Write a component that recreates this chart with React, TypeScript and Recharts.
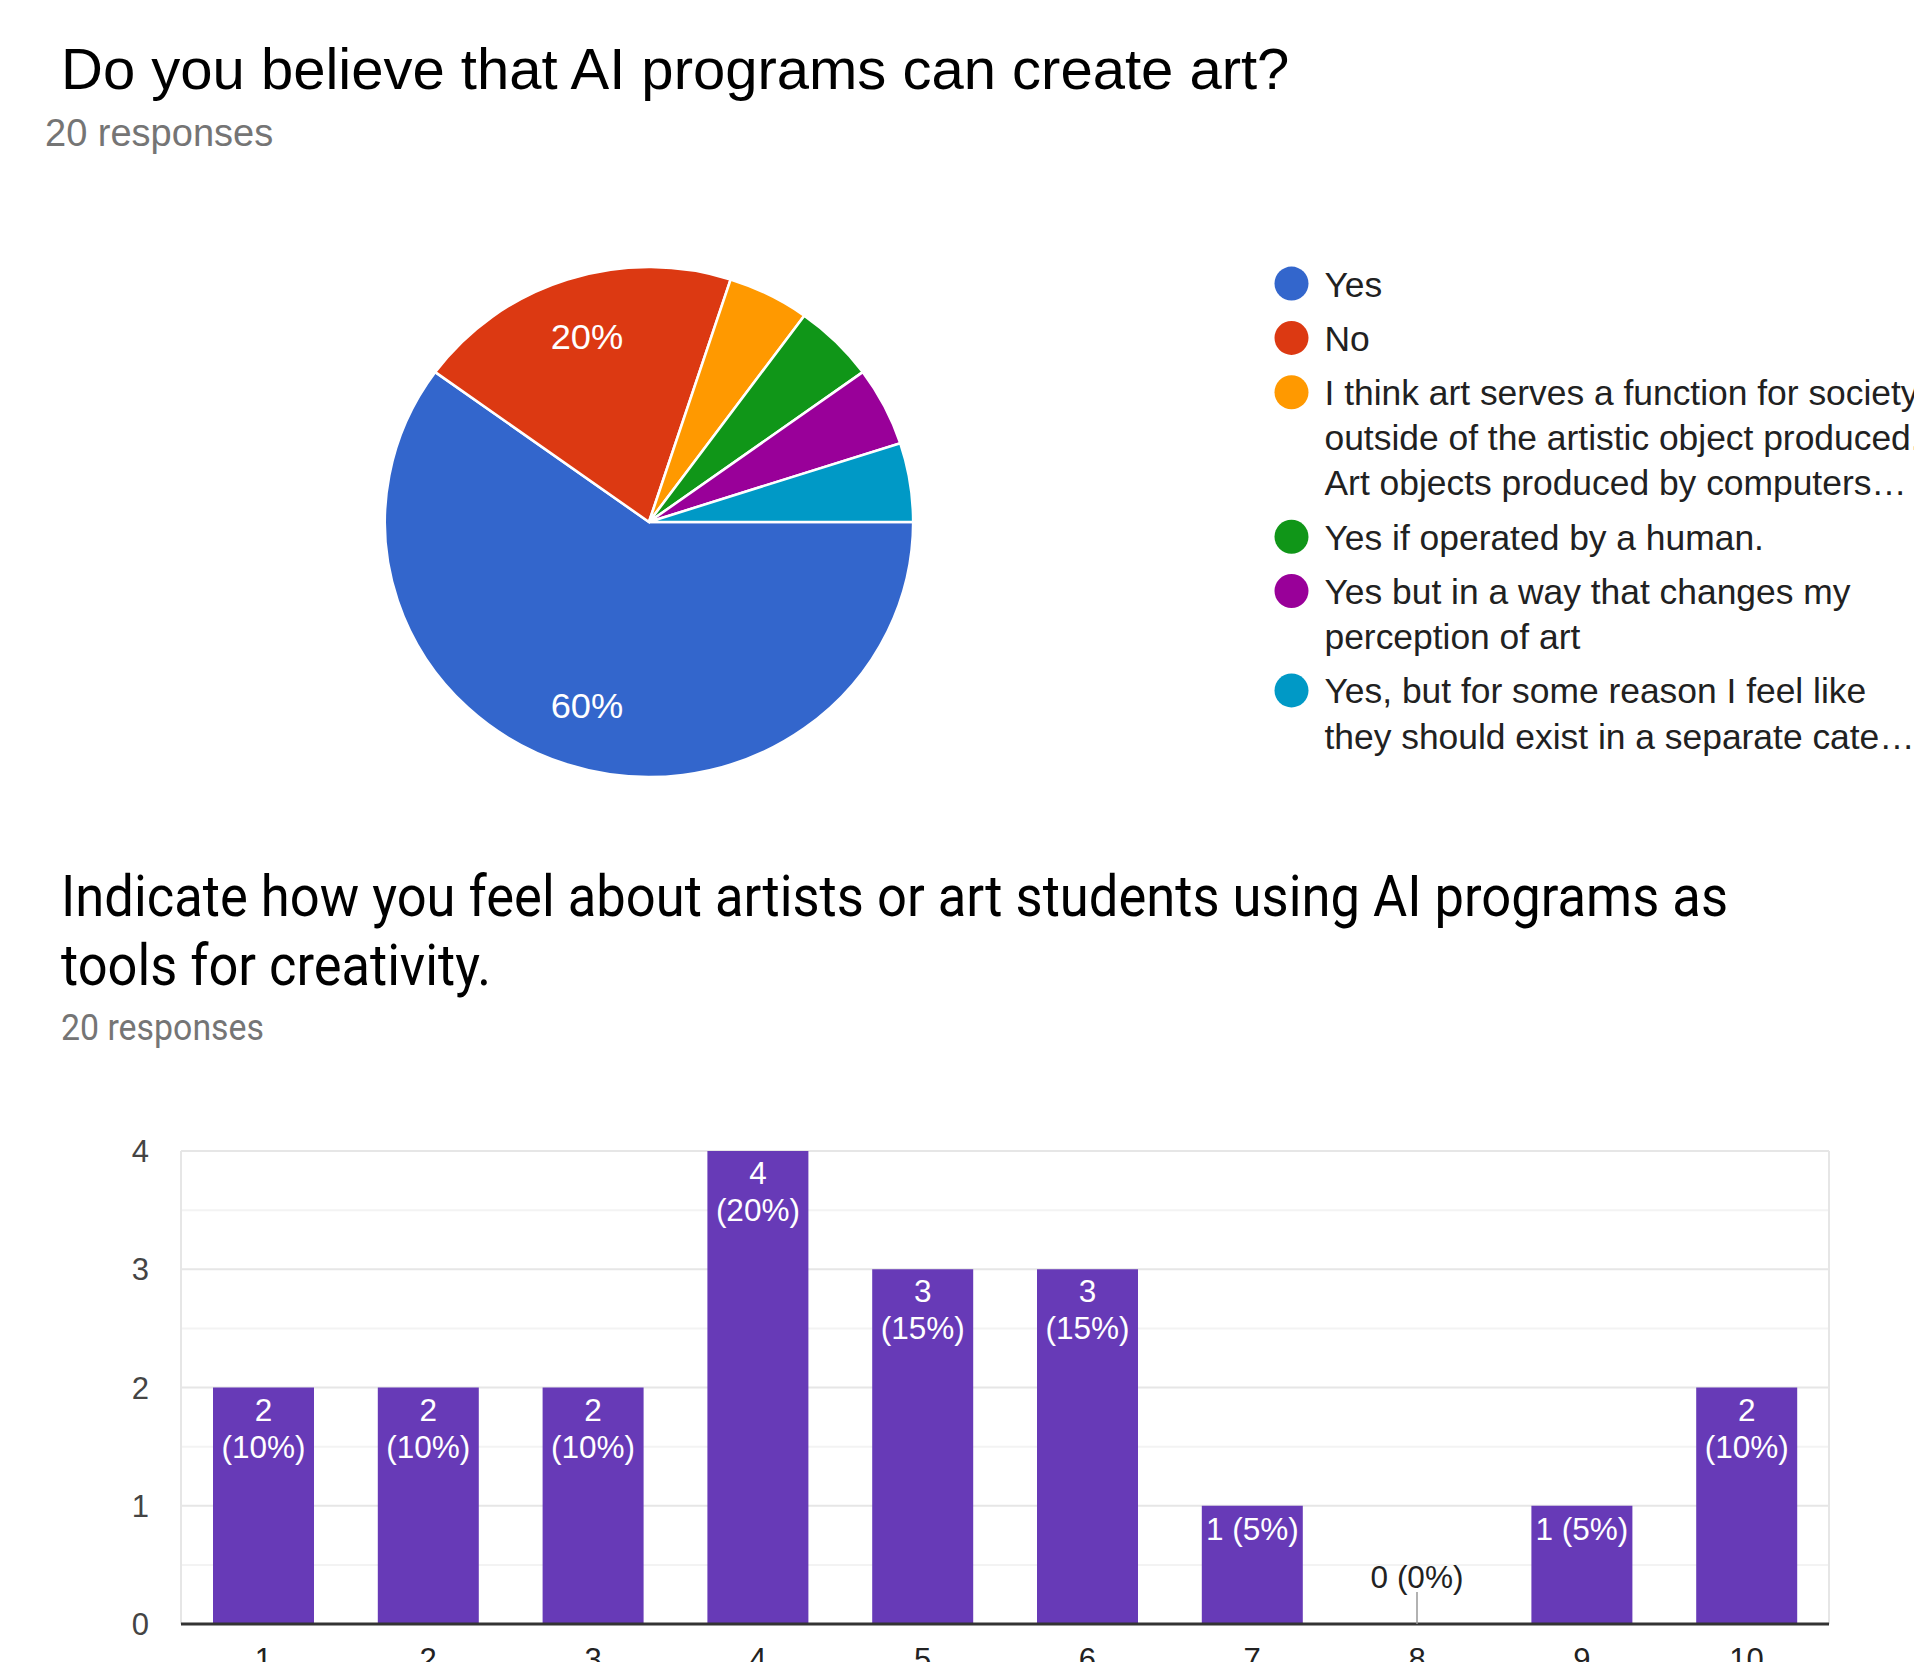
import React from 'react';
import { PieChart, Pie, Cell, BarChart, Bar, XAxis, YAxis, CartesianGrid, LabelList, ReferenceDot } from 'recharts';

const FONT = '"Liberation Sans", Arial, Helvetica, sans-serif';
const FONT2 = 'Roboto, "Liberation Sans", Arial, sans-serif';

// question 1 (pie)
const pieCategories = [
  'Yes',
  'No',
  'I think art serves a function for society outside of the artistic object produced. Art objects produced by computers…',
  'Yes if operated by a human.',
  'Yes but in a way that changes my perception of art',
  'Yes, but for some reason I feel like they should exist in a separate cate…',
];
const pieCounts = [12, 4, 1, 1, 1, 1];
const pieColors = ['#3366cc', '#dc3912', '#ff9900', '#109618', '#990099', '#0099c6'];
const legendLines = [
  ['Yes'],
  ['No'],
  ['I think art serves a function for society', 'outside of the artistic object produced.', 'Art objects produced by computers…'],
  ['Yes if operated by a human.'],
  ['Yes but in a way that changes my', 'perception of art'],
  ['Yes, but for some reason I feel like', 'they should exist in a separate cate…'],
];

// question 2 (bars)
const barCategories = ['1', '2', '3', '4', '5', '6', '7', '8', '9', '10'];
const barCounts = [2, 2, 2, 4, 3, 3, 1, 0, 1, 2];
const barTicks = [0, 1, 2, 3, 4];
const minorTicks = [0.5, 1.5, 2.5, 3.5];

const pieData = pieCategories.map((name, i) => ({ name, value: pieCounts[i] }));
const barData = barCategories.map((name, i) => ({ name, value: barCounts[i] }));
const barTotal = barCounts.reduce((a, b) => a + b, 0);
const pctText = (v: number) => `(${Math.round((v / barTotal) * 100)}%)`;

const renderPieLabel = (props: any) => {
  const { cx, cy, midAngle, outerRadius, percent } = props;
  if (percent < 0.1) return null;
  const RAD = Math.PI / 180;
  const r = outerRadius * 0.76;
  const x = cx + r * Math.cos(-midAngle * RAD);
  const y = cy + r * Math.sin(-midAngle * RAD);
  return (
    <text x={x} y={y} fill="#fff" fontSize={35} fontFamily={FONT} textAnchor="middle" dominantBaseline="central">
      {Math.round(percent * 100)}%
    </text>
  );
};

const labelStyle = { textAnchor: 'middle' as const, fontSize: 31.5, fontFamily: FONT };

const renderBarLabel = (props: any) => {
  const { x, y, width, value } = props;
  if (!value) return null;
  const mid = Number(x) + Number(width) / 2;
  const top = Number(y);
  if (value === 1) {
    return <text x={mid} y={top + 34} fill="#fff" {...labelStyle}>{`${value} ${pctText(value)}`}</text>;
  }
  return (
    <g>
      <text x={mid} y={top + 33} fill="#fff" {...labelStyle}>{value}</text>
      <text x={mid} y={top + 70} fill="#fff" {...labelStyle}>{pctText(value)}</text>
    </g>
  );
};

// label drawn above the axis for empty categories
const ZeroLabel = (props: any) => {
  const { cx, cy } = props;
  return (
    <g>
      <line x1={cx} x2={cx} y1={cy} y2={cy - 32} stroke="#999" strokeWidth={1.5} />
      <text x={cx} y={cy - 36} fill="#222" {...labelStyle}>{`0 ${pctText(0)}`}</text>
    </g>
  );
};

const Legend = () => {
  let k = 0;
  const items = legendLines.map((lines, i) => {
    const base = 296.6 + i * 54.3 + k * 45.1;
    k += lines.length - 1;
    return (
      <g key={i}>
        <circle cx={1291.5} cy={base - 13} r={17} fill={pieColors[i]} />
        {lines.map((ln, j) => (
          <text key={j} x={1324.5} y={base + j * 45.1} fontSize={35.4} fill="#212121" fontFamily={FONT}>
            {ln}
          </text>
        ))}
      </g>
    );
  });
  return <g>{items}</g>;
};

export default function App() {
  return (
    <div style={{ position: 'absolute', left: 0, top: 0, width: 1914, height: 1662, overflow: 'hidden', background: '#fff' }}>
      <svg width={1914} height={1662} style={{ position: 'absolute', left: 0, top: 0 }}>
        <text x={61} y={89} fontSize={58} fill="#000" fontFamily={FONT}>Do you believe that AI programs can create art?</text>
        <text x={45} y={146} fontSize={38} fill="#757575" fontFamily={FONT}>20 responses</text>
        <Legend />
        <text x={61} y={915.5} fontSize={58} fill="#000" fontFamily={FONT2} textLength={1667} lengthAdjust="spacingAndGlyphs">
          Indicate how you feel about artists or art students using AI programs as
        </text>
        <text x={61} y={985} fontSize={58} fill="#000" fontFamily={FONT2} textLength={430} lengthAdjust="spacingAndGlyphs">
          tools for creativity.
        </text>
        <text x={61} y={1040} fontSize={37} fill="#757575" fontFamily={FONT2} textLength={203} lengthAdjust="spacingAndGlyphs">
          20 responses
        </text>
      </svg>

      <div style={{ position: 'absolute', left: 299, top: 222, transform: 'scaleX(1.036)', transformOrigin: '350px 300px' }}>
        <PieChart width={700} height={600} margin={{ top: 0, right: 0, bottom: 0, left: 0 }}>
          <Pie
            data={pieData}
            dataKey="value"
            nameKey="name"
            cx={350}
            cy={300}
            outerRadius={255}
            startAngle={0}
            endAngle={-360}
            stroke="#fff"
            strokeWidth={2.5}
            label={renderPieLabel}
            labelLine={false}
            isAnimationActive={false}
          >
            {pieData.map((d, i) => (
              <Cell key={d.name} fill={pieColors[i]} />
            ))}
          </Pie>
        </PieChart>
      </div>

      <div style={{ position: 'absolute', left: 0, top: 1100 }}>
        <BarChart width={1914} height={562} data={barData} margin={{ top: 51, right: 85, left: 121, bottom: 8 }}>
          <CartesianGrid
            vertical={false}
            stroke="#f3f3f3"
            strokeWidth={2}
            horizontalCoordinatesGenerator={({ offset }: any) =>
              minorTicks.map((v) => offset.top + offset.height * (1 - v / barTicks[barTicks.length - 1]))
            }
          />
          <CartesianGrid
            stroke="#e6e6e6"
            strokeWidth={2}
            verticalCoordinatesGenerator={({ offset }: any) => [offset.left, offset.left + offset.width]}
          />
          <XAxis
            dataKey="name"
            interval={0}
            axisLine={{ stroke: '#333', strokeWidth: 3 }}
            tickLine={false}
            tickSize={0}
            tickMargin={24}
            height={30}
            tick={{ fill: '#222', fontSize: 31, fontFamily: FONT }}
          />
          <YAxis
            domain={[0, 4]}
            ticks={barTicks}
            axisLine={false}
            tickLine={false}
            tickSize={0}
            tickMargin={32}
            width={60}
            tick={{ fill: '#444', fontSize: 31, fontFamily: FONT }}
          />
          <Bar dataKey="value" fill="#673ab7" barSize={101} isAnimationActive={false}>
            <LabelList dataKey="value" content={renderBarLabel} />
          </Bar>
          {barData
            .filter((d) => d.value === 0)
            .map((d) => (
              <ReferenceDot key={d.name} x={d.name} y={0} shape={ZeroLabel} />
            ))}
        </BarChart>
      </div>
    </div>
  );
}
